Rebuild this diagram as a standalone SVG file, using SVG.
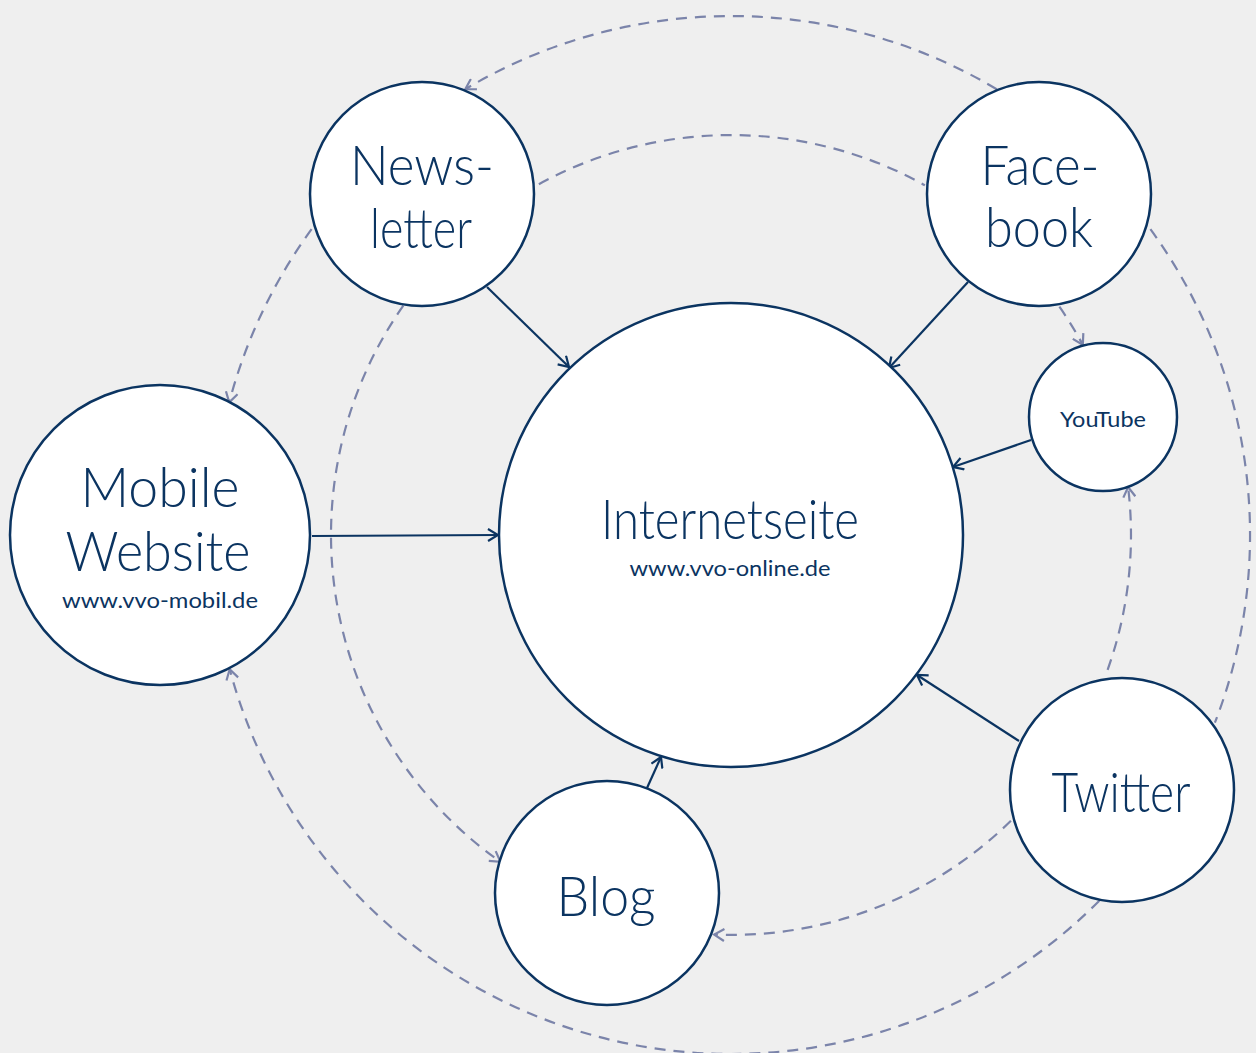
<svg xmlns="http://www.w3.org/2000/svg" width="1256" height="1053" viewBox="0 0 1256 1053">
<style>
.node{fill:#ffffff;stroke:#0b3461;stroke-width:2.5}
.lbl{font-family:"Lato","Liberation Sans",sans-serif;font-weight:300;fill:#0b3461;text-anchor:middle}
.big{font-size:56px}
.small{font-size:22px;font-weight:400}
.solid{fill:none;stroke:#0b3461;stroke-width:2.2;marker-end:url(#ah)}
.dash{fill:none;stroke:#7b84aa;stroke-width:2.2;stroke-dasharray:11 8}
.da{marker-end:url(#ahd)}
</style>
<defs>
<marker id="ah" viewBox="0 0 14 14" refX="12" refY="7" markerWidth="14" markerHeight="14" markerUnits="userSpaceOnUse" orient="auto">
<path d="M2,1 L12,7 L2,13" fill="none" stroke="#0b3461" stroke-width="2.2"/>
</marker>
<marker id="ahd" viewBox="0 0 14 14" refX="12" refY="7" markerWidth="14" markerHeight="14" markerUnits="userSpaceOnUse" orient="auto">
<path d="M2,1 L12,7 L2,13" fill="none" stroke="#7b84aa" stroke-width="2.2"/>
</marker>
</defs>
<rect x="0" y="0" width="1256" height="1053" fill="#efefef"/>
<g id="connectors">
<path class="dash da" d="M996.7,89.2 A519,519 0 0 0 465.3,89.2"/>
<path class="dash da" d="M311.6,229.2 A519,519 0 0 0 229.2,402.4"/>
<path class="dash" d="M1150.4,229.2 A519,519 0 0 1 1214.9,722.7"/>
<path class="dash da" d="M1099.3,900.7 A519,519 0 0 1 229.7,669.3"/>
<path class="dash" d="M538.9,184.2 A400,400 0 0 1 924.9,185.2"/>
<path class="dash da" d="M403.3,305.6 A400,400 0 0 0 500.4,861.8"/>
<path class="dash da" d="M1059.4,306.7 A400,400 0 0 1 1082.8,344.8"/>
<path class="dash da" d="M1107.6,669.8 A400,400 0 0 0 1128.1,487.0"/>
<path class="dash da" d="M1010.9,820.8 A400,400 0 0 1 714.2,934.6"/>
<path class="solid" d="M487,287 L569,367"/>
<path class="solid" d="M968,282 L889,368"/>
<path class="solid" d="M1031,440 L953,467"/>
<path class="solid" d="M312,536 L498,535"/>
<path class="solid" d="M1019,741 L917,675"/>
<path class="solid" d="M647,788 L661,757"/>
</g>
<g id="internetseite">
<circle class="node" cx="731" cy="535" r="232"/>
<text class="lbl big" x="730" y="539" textLength="258" lengthAdjust="spacingAndGlyphs">Internetseite</text>
<text class="lbl small" x="730" y="576" textLength="201" lengthAdjust="spacingAndGlyphs">www.vvo-online.de</text>
</g>
<g id="newsletter">
<circle class="node" cx="422" cy="194" r="112"/>
<text class="lbl big" x="422" y="185" textLength="144" lengthAdjust="spacingAndGlyphs">News-</text>
<text class="lbl big" x="421" y="248" textLength="102" lengthAdjust="spacingAndGlyphs">letter</text>
</g>
<g id="facebook">
<circle class="node" cx="1039" cy="194" r="112"/>
<text class="lbl big" x="1040" y="185" textLength="119" lengthAdjust="spacingAndGlyphs">Face-</text>
<text class="lbl big" x="1039" y="247" textLength="108" lengthAdjust="spacingAndGlyphs">book</text>
</g>
<g id="youtube">
<circle class="node" cx="1103" cy="417" r="74"/>
<text class="lbl small" x="1103" y="427" textLength="86" lengthAdjust="spacingAndGlyphs">YouTube</text>
</g>
<g id="mobile">
<circle class="node" cx="160" cy="535" r="150"/>
<text class="lbl big" x="160" y="507" textLength="159" lengthAdjust="spacingAndGlyphs">Mobile</text>
<text class="lbl big" x="158" y="571" textLength="185" lengthAdjust="spacingAndGlyphs">Website</text>
<text class="lbl small" x="160" y="608" textLength="196" lengthAdjust="spacingAndGlyphs">www.vvo-mobil.de</text>
</g>
<g id="twitter">
<circle class="node" cx="1122" cy="790" r="112"/>
<text class="lbl big" x="1121" y="812" textLength="139" lengthAdjust="spacingAndGlyphs">Twitter</text>
</g>
<g id="blog">
<circle class="node" cx="607" cy="893" r="112"/>
<text class="lbl big" x="606" y="916" textLength="99" lengthAdjust="spacingAndGlyphs">Blog</text>
</g>
</svg>
